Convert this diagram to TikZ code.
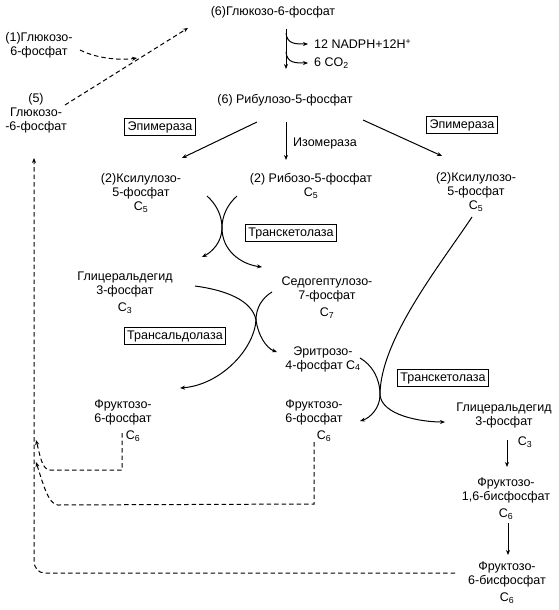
\documentclass[tikz,border=0pt]{standalone}
\usepackage{fontspec}
\setmainfont{Liberation Sans}
\usetikzlibrary{arrows.meta}

\tikzset{
  lbl/.style={font=\fontsize{12.5}{14}\selectfont, align=center, inner sep=1pt},
  enz/.style={lbl, draw, line width=1pt, inner sep=3pt},
  arr/.style={-{Stealth[length=5pt,width=4pt]}, line width=1pt},
  darr/.style={arr, dash pattern=on 4.5pt off 3pt},
}

\begin{document}
\begin{tikzpicture}[x=1pt,y=-1pt]
\useasboundingbox (0,0) rectangle (558,610);

% substrates and products
\node[lbl] (g6) at (273,12) {(6)Глюкозо-6-фосфат};
\node[lbl,anchor=west] (nadph) at (313,44) {12 NADPH+12H\textsuperscript{+}};
\node[lbl,anchor=west] (co2) at (313,63) {6 CO\textsubscript{2}};
\node[lbl] (ru5p) at (285,100) {(6) Рибулозо-5-фосфат};
\node[lbl] (g6pA) at (39,45) {(1)Глюкозо-\\6-фосфат};
\node[lbl] (g6pB) at (36,113) {(5)\\Глюкозо-\\-6-фосфат};
\node[lbl] (xu5pA) at (141,193) {(2)Ксилулозо-\\5-фосфат\\C\textsubscript{5}};
\node[lbl] (r5p) at (311,186) {(2) Рибозо-5-фосфат\\C\textsubscript{5}};
\node[lbl] (xu5pB) at (476,192) {(2)Ксилулозо-\\5-фосфат\\C\textsubscript{5}};
\node[lbl] (ga3pA) at (125,293) {Глицеральдегид\\3-фосфат\\[3pt]C\textsubscript{3}};
\node[lbl] (s7p) at (327,298) {Седогептулозо-\\7-фосфат\\[3pt]C\textsubscript{7}};
\node[lbl] (e4p) at (323,359) {Эритрозо-\\4-фосфат C\textsubscript{4}};
\node[lbl] (f6pA) at (123,421) {Фруктозо-\\6-фосфат\\[3pt]\hspace*{1.6em}C\textsubscript{6}};
\node[lbl] (f6pB) at (314,421) {Фруктозо-\\6-фосфат\\[3pt]\hspace*{1.6em}C\textsubscript{6}};
\node[lbl] (ga3pB) at (504,415) {Глицеральдегид\\3-фосфат};
\node[lbl] (c3B) at (525,442) {C\textsubscript{3}};
\node[lbl] (fbp) at (506,499) {Фруктозо-\\1,6-бисфосфат\\[3pt]C\textsubscript{6}};
\node[lbl] (f6pC) at (507,583) {Фруктозо-\\6-бисфосфат\\[3pt]C\textsubscript{6}};

% enzymes
\node[enz] (epiA) at (160,127) {Эпимераза};
\node[enz] (epiB) at (462,125) {Эпимераза};
\node[lbl,anchor=west] (iso) at (292,143) {Изомераза};
\node[enz] (tkA) at (291,233) {Транскетолаза};
\node[enz] (ta) at (175,336) {Трансальдолаза};
\node[enz] (tkB) at (443,378) {Транскетолаза};

% ends of the arrows
\coordinate (g6-out) at (286,29);
\coordinate (ru5p-in) at (286,69);
\coordinate (ru5p-l) at (257,122);
\coordinate (ru5p-m) at (286,122);
\coordinate (ru5p-r) at (363,120);
\coordinate (xu5pA-in) at (182,158);
\coordinate (r5p-in) at (286,160);
\coordinate (xu5pB-in) at (442,156);
\coordinate (xu5pA-out) at (207,196);
\coordinate (r5p-out) at (237,196);
\coordinate (xu5pB-out) at (472,217);
\coordinate (ga3pA-out) at (195,286);
\coordinate (s7p-out) at (272,292);
\coordinate (e4p-out) at (360,358);
\coordinate (crossA) at (222,228);
\coordinate (crossB) at (256,320);
\coordinate (crossC) at (380,395);

% oxidative branch
\draw[arr] (g6-out) -- (ru5p-in);
\draw[arr, shorten >=5pt] (286,33) .. controls (287,44) and (295,44) .. (nadph.west);
\draw[arr, shorten >=5pt] (286,52) .. controls (287,63) and (295,63) .. (co2.west);
\draw[arr] (ru5p-l) -- (xu5pA-in);
\draw[arr] (ru5p-m) -- (r5p-in);
\draw[arr] (ru5p-r) -- (xu5pB-in);

% transketolase
\draw[arr] (xu5pA-out) .. controls (216,204) and (222,215) .. (crossA)
  .. controls (222,250) and (240,264) .. (262,267);
\draw[arr] (r5p-out) .. controls (228,204) and (222,215) .. (crossA)
  .. controls (222,242) and (212,252) .. (202,257);

% transaldolase
\draw[arr] (ga3pA-out) .. controls (225,290) and (252,300) .. (crossB)
  .. controls (258,335) and (266,348) .. (277,352);
\draw[arr] (s7p-out) .. controls (262,298) and (256,308) .. (crossB)
  .. controls (254,350) and (220,385) .. (180,388);

% transketolase
\draw[arr] (xu5pB-out) .. controls (440,265) and (380,340) .. (crossC)
  .. controls (382,415) and (420,422) .. (445,422);
\draw[arr] (e4p-out) .. controls (372,365) and (380,378) .. (crossC)
  .. controls (380,408) and (370,418) .. (360,421);

% glycolysis back
\draw[arr] (507,440) -- (507,467);
\draw[arr] (508,523) -- (508,555);

% dashed return to glucose-6-phosphate
\draw[darr] (122,433) -- (122,470) -- (50,470) .. controls (42,470) and (40,455) .. (36,440);
\draw[darr] (314,442) -- (314,504) -- (58,505) .. controls (48,505) and (42,480) .. (36,462);
\draw[darr] (455,573) -- (45,573) .. controls (38,573) and (34,568) .. (34,560) -- (34,158);
\draw[darr] (65,105) -- (188,28);
\draw[darr] (80,50) .. controls (100,60) and (125,60) .. (137,58);
\end{tikzpicture}
\end{document}
